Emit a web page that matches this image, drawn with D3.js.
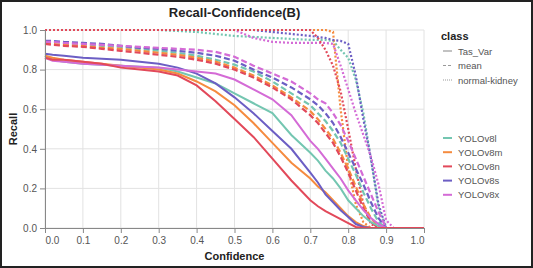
<!DOCTYPE html>
<html>
<head>
<meta charset="utf-8">
<script src="https://cdn.jsdelivr.net/npm/d3@7"></script>
<style>
  body { margin: 0; background: #fff; }
  svg { display: block; font-family: "Liberation Sans", Arial, sans-serif; }
</style>
</head>
<body>
<svg id="chart"></svg>
<script>
// confidence grid shared by every curve
const conf = [0, .02, .05, .1, .15, .2, .25, .3, .35, .4, .45, .5, .55, .6, .65, .7, .72, .74, .76, .78, .8, .82, .84, .86, .88, .9, .92, .95, 1];

const models = ["YOLOv8l", "YOLOv8m", "YOLOv8n", "YOLOv8s", "YOLOv8x"];
const classes = ["Tas_Var", "mean", "normal-kidney"];
const xTicks = [0, .1, .2, .3, .4, .5, .6, .7, .8, .9, 1];
const yTicks = [0, .2, .4, .6, .8, 1];

// Tas_Var (solid)
const tasV8l = [.87, .85, .84, .83, .825, .82, .815, .81, .79, .76, .73, .68, .63, .58, .47, .38, .34, .29, .25, .20, .14, .10, .06, .03, .01, 0, 0, 0, 0];
const tasV8m = [.87, .86, .85, .84, .83, .82, .81, .80, .78, .74, .69, .62, .53, .43, .33, .25, .21, .18, .14, .10, .06, .03, .01, 0, 0, 0, 0, 0, 0];
const tasV8n = [.86, .85, .85, .84, .83, .81, .80, .79, .77, .72, .64, .55, .46, .35, .24, .14, .11, .085, .065, .045, .025, .005, 0, 0, 0, 0, 0, 0, 0];
const tasV8s = [.88, .875, .87, .86, .855, .85, .84, .83, .81, .78, .73, .66, .58, .49, .40, .28, .23, .17, .13, .09, .055, .02, .005, 0, 0, 0, 0, 0, 0];
const tasV8x = [.86, .845, .84, .83, .825, .82, .815, .81, .80, .79, .78, .75, .70, .65, .57, .44, .40, .35, .30, .25, .19, .14, .09, .05, .02, 0, 0, 0, 0];

// mean (dashed)
const meanV8l = [.94, .94, .935, .93, .92, .915, .905, .895, .885, .87, .85, .825, .79, .74, .68, .62, .58, .54, .49, .43, .35, .27, .18, .10, .03, 0, 0, 0, 0];
const meanV8m = [.935, .93, .925, .92, .91, .905, .895, .885, .875, .86, .84, .81, .77, .72, .66, .59, .55, .50, .45, .38, .30, .21, .12, .05, .01, 0, 0, 0, 0];
const meanV8n = [.93, .925, .92, .915, .905, .895, .885, .875, .865, .85, .83, .80, .76, .71, .65, .57, .53, .48, .43, .36, .28, .19, .10, .03, 0, 0, 0, 0, 0];
const meanV8s = [.945, .945, .94, .935, .93, .92, .91, .905, .895, .885, .87, .845, .80, .76, .71, .65, .62, .58, .53, .46, .38, .30, .22, .13, .05, 0, 0, 0, 0];
const meanV8x = [.94, .94, .935, .93, .925, .92, .915, .91, .905, .90, .89, .865, .82, .78, .74, .68, .65, .63, .58, .52, .44, .35, .26, .17, .08, 0, 0, 0, 0];

// normal-kidney (dotted)
const nkV8l = [1, 1, 1, 1, 1, 1, 1, 1, .995, .99, .98, .97, .965, .96, .955, .95, .95, .95, .945, .90, .86, .75, .58, .35, .10, 0, 0, 0, 0];
const nkV8m = [1, 1, 1, 1, 1, 1, 1, 1, 1, 1, 1, 1, 1, 1, 1, 1, 1, 1, .99, .60, .30, .12, .03, 0, 0, 0, 0, 0, 0];
const nkV8n = [1, 1, 1, 1, 1, 1, 1, 1, 1, 1, 1, 1, 1, 1, 1, 1, .96, .90, .82, .69, .50, .30, .12, .02, 0, 0, 0, 0, 0];
const nkV8s = [1, 1, 1, 1, 1, 1, 1, 1, 1, 1, 1, 1, 1, .99, .98, .97, .965, .96, .95, .945, .93, .77, .55, .35, .12, 0, 0, 0, 0];
const nkV8x = [1, 1, 1, 1, 1, 1, 1, 1, 1, 1, 1, 1, .96, .94, .935, .935, .935, .935, .93, .82, .70, .58, .47, .36, .22, .04, 0, 0, 0];

const seriesValues = {
  "Tas_Var": { YOLOv8l: tasV8l, YOLOv8m: tasV8m, YOLOv8n: tasV8n, YOLOv8s: tasV8s, YOLOv8x: tasV8x },
  "mean": { YOLOv8l: meanV8l, YOLOv8m: meanV8m, YOLOv8n: meanV8n, YOLOv8s: meanV8s, YOLOv8x: meanV8x },
  "normal-kidney": { YOLOv8l: nkV8l, YOLOv8m: nkV8m, YOLOv8n: nkV8n, YOLOv8s: nkV8s, YOLOv8x: nkV8x }
};

const W = 533, H = 268;
const margin = { top: 30, right: 109, bottom: 40, left: 45 };
const width = W - margin.left - margin.right;
const height = H - margin.top - margin.bottom;

const svg = d3.select("#chart").attr("width", W).attr("height", H);

svg.append("rect")
  .attr("x", 1).attr("y", 1).attr("width", W - 2).attr("height", H - 2)
  .attr("fill", "#fff").attr("stroke", "#222").attr("stroke-width", 2);

const g = svg.append("g").attr("transform", `translate(${margin.left},${margin.top})`);

const x = d3.scaleLinear().domain([0, 1]).range([0, width]);
const y = d3.scaleLinear().domain([0, 1]).range([height, 0]);

const color = d3.scaleOrdinal()
  .domain(models)
  .range(["#74c6b1", "#f58b3f", "#e2495a", "#6c5ec4", "#d46bd6"]);
const dash = d3.scaleOrdinal()
  .domain(classes)
  .range([null, "6,3", "2,2"]);

// grid
g.append("g").selectAll("line").data(xTicks).enter().append("line")
  .attr("x1", d => x(d)).attr("x2", d => x(d))
  .attr("y1", 0).attr("y2", height)
  .attr("stroke", "#e2e2e2");
g.append("g").selectAll("line").data(yTicks).enter().append("line")
  .attr("x1", 0).attr("x2", width)
  .attr("y1", d => y(d)).attr("y2", d => y(d))
  .attr("stroke", "#e2e2e2");

// curves
const line = d3.line()
  .x((d, i) => x(conf[i]))
  .y(d => y(d));

const drawOrder = ["YOLOv8l", "YOLOv8m", "YOLOv8s", "YOLOv8x", "YOLOv8n"];
["normal-kidney", "mean", "Tas_Var"].forEach(cls => {
  drawOrder.forEach(m => {
    g.append("path")
      .datum(seriesValues[cls][m])
      .attr("d", line)
      .attr("fill", "none")
      .attr("stroke", color(m))
      .attr("stroke-width", cls === "Tas_Var" ? 2 : 2.2)
      .attr("stroke-dasharray", dash(cls));
  });
});

// axes
const xAxis = g.append("g")
  .attr("transform", `translate(0,${height})`)
  .call(d3.axisBottom(x).tickValues(xTicks).tickFormat(d3.format(".1f")).tickSize(5).tickPadding(4));
xAxis.selectAll("text")
  .attr("text-anchor", (d, i) => i === 0 ? "start" : (i === xTicks.length - 1 ? "end" : "middle"));

const yAxis = g.append("g")
  .call(d3.axisLeft(y).tickValues(yTicks).tickFormat(d3.format(".1f")).tickSize(5).tickPadding(3));

[xAxis, yAxis].forEach(a => {
  a.select(".domain").attr("stroke", "#888");
  a.selectAll(".tick line").attr("stroke", "#888");
  a.selectAll("text").attr("fill", "#555").style("font-size", "10px");
});

// titles
svg.append("text")
  .attr("x", margin.left + width / 2).attr("y", 17)
  .attr("text-anchor", "middle")
  .style("font-size", "13px").style("font-weight", "bold").attr("fill", "#222")
  .text("Recall-Confidence(B)");

svg.append("text")
  .attr("x", margin.left + width / 2).attr("y", 260)
  .attr("text-anchor", "middle")
  .style("font-size", "11px").style("font-weight", "bold").attr("fill", "#222")
  .text("Confidence");

svg.append("text")
  .attr("transform", `translate(17,${margin.top + height / 2}) rotate(-90)`)
  .attr("text-anchor", "middle")
  .style("font-size", "11px").style("font-weight", "bold").attr("fill", "#222")
  .text("Recall");

// legend: class
const lx = 441;
svg.append("text")
  .attr("x", lx).attr("y", 40)
  .style("font-size", "11px").style("font-weight", "bold").attr("fill", "#222")
  .text("class");

const classLegend = svg.append("g").selectAll("g").data(classes).enter().append("g")
  .attr("transform", (d, i) => `translate(${lx},${51 + i * 14.5})`);
classLegend.append("line")
  .attr("x1", 2).attr("x2", 11).attr("y1", 0).attr("y2", 0)
  .attr("stroke", "#999").attr("stroke-width", 1.2)
  .attr("stroke-dasharray", d => d === "mean" ? "3,2" : (d === "normal-kidney" ? "1,1" : null));
classLegend.append("text")
  .attr("x", 17).attr("y", 3.5)
  .style("font-size", "9.5px").attr("fill", "#555")
  .text(d => d);

// legend: model
const modelLegend = svg.append("g").selectAll("g").data(models).enter().append("g")
  .attr("transform", (d, i) => `translate(${lx},${138 + i * 14.2})`);
modelLegend.append("line")
  .attr("x1", 2).attr("x2", 11).attr("y1", 0).attr("y2", 0)
  .attr("stroke", d => color(d)).attr("stroke-width", 2);
modelLegend.append("text")
  .attr("x", 17).attr("y", 3.5)
  .style("font-size", "9.5px").attr("fill", "#555")
  .text(d => d);
</script>
</body>
</html>
